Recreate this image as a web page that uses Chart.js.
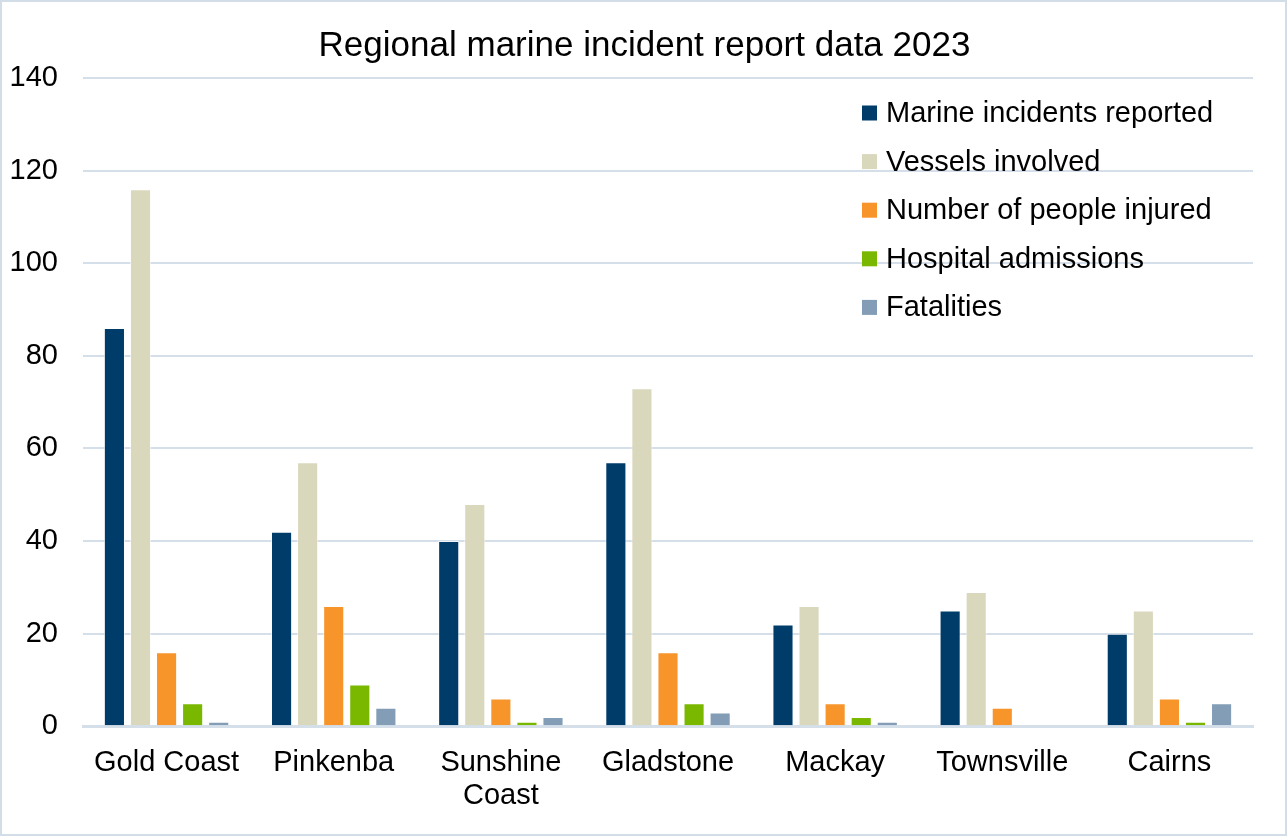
<!DOCTYPE html>
<html lang="en">
<head>
  <meta charset="UTF-8">
  <title>Regional marine incident report data 2023</title>
  <script src="https://cdn.jsdelivr.net/npm/chart.js"></script>
  <style>
    html, body { margin: 0; padding: 0; background: #fff; }
    #wrap { width: 1287px; height: 836px; box-sizing: border-box; border: 2px solid #d3dde8; }
  </style>
</head>
<body>
  <div id="wrap">
    <canvas id="chart" width="1283" height="832"></canvas>
  </div>

  <script>
    const chartTitle = "Regional marine incident report data 2023";
    const regions = ["Gold Coast", "Pinkenba", ["Sunshine", "Coast"], "Gladstone", "Mackay", "Townsville", "Cairns"];

    const incidents  = [86, 42, 40, 57, 22, 25, 20];
    const vessels    = [116, 57, 48, 73, 26, 29, 25];
    const injured    = [16, 26, 6, 16, 5, 4, 6];
    const hospital   = [5, 9, 1, 5, 2, 0, 1];
    const fatalities = [1, 4, 2, 3, 1, 0, 5];

    const gridColor = "#d5dfe9";
    const fontFamily = "'Liberation Sans', Arial, sans-serif";

    // title centred on the whole canvas, legend inside the plot area (top right)
    const overlay = {
      id: "overlay",
      afterDraw(chart) {
        const ctx = chart.ctx;
        ctx.save();
        ctx.fillStyle = "#000";
        ctx.textAlign = "center";
        ctx.textBaseline = "middle";
        ctx.font = "35px " + fontFamily;
        ctx.fillText(chartTitle, chart.width / 2 + 1, 44);

        const x = 860, y0 = 111, step = 48.6, box = 15;
        ctx.textAlign = "left";
        ctx.font = "29px " + fontFamily;
        chart.data.datasets.forEach((ds, i) => {
          const y = y0 + i * step;
          ctx.fillStyle = ds.backgroundColor;
          ctx.fillRect(x, y - box / 2, box, box);
          ctx.fillStyle = "#000";
          ctx.fillText(ds.label, x + 24, y + 1);
        });
        ctx.restore();
      }
    };

    const mk = (label, data, color) => ({
      label: label,
      data: data,
      backgroundColor: color,
      borderColor: "rgba(255,255,255,0.6)",
      borderWidth: 1,
      categoryPercentage: 0.78,
      barPercentage: 0.81
    });

    new Chart(document.getElementById("chart"), {
      type: "bar",
      data: {
        labels: regions,
        datasets: [
          mk("Marine incidents reported", incidents, "#003c69"),
          mk("Vessels involved", vessels, "#d9d8bd"),
          mk("Number of people injured", injured, "#f7952b"),
          mk("Hospital admissions", hospital, "#7ab800"),
          mk("Fatalities", fatalities, "#829db5")
        ]
      },
      options: {
        responsive: false,
        animation: false,
        layout: { padding: { left: 8, right: 32, top: 76, bottom: 9 } },
        plugins: {
          legend: { display: false },
          tooltip: { enabled: false },
          title: { display: false }
        },
        scales: {
          x: {
            grid: { display: false },
            border: { display: true, color: gridColor, width: 3 },
            ticks: {
              color: "#000",
              font: { family: fontFamily, size: 29, lineHeight: 1.15 },
              padding: 12,
              maxRotation: 0,
              autoSkip: false
            }
          },
          y: {
            min: 0,
            max: 140,
            afterFit(scale) { scale.width = 73; },
            grid: { color: gridColor, lineWidth: 2, drawTicks: false },
            border: { display: false },
            ticks: {
              stepSize: 20,
              color: "#000",
              font: { family: fontFamily, size: 29 },
              padding: 25
            }
          }
        }
      },
      plugins: [overlay]
    });
  </script>
</body>
</html>
